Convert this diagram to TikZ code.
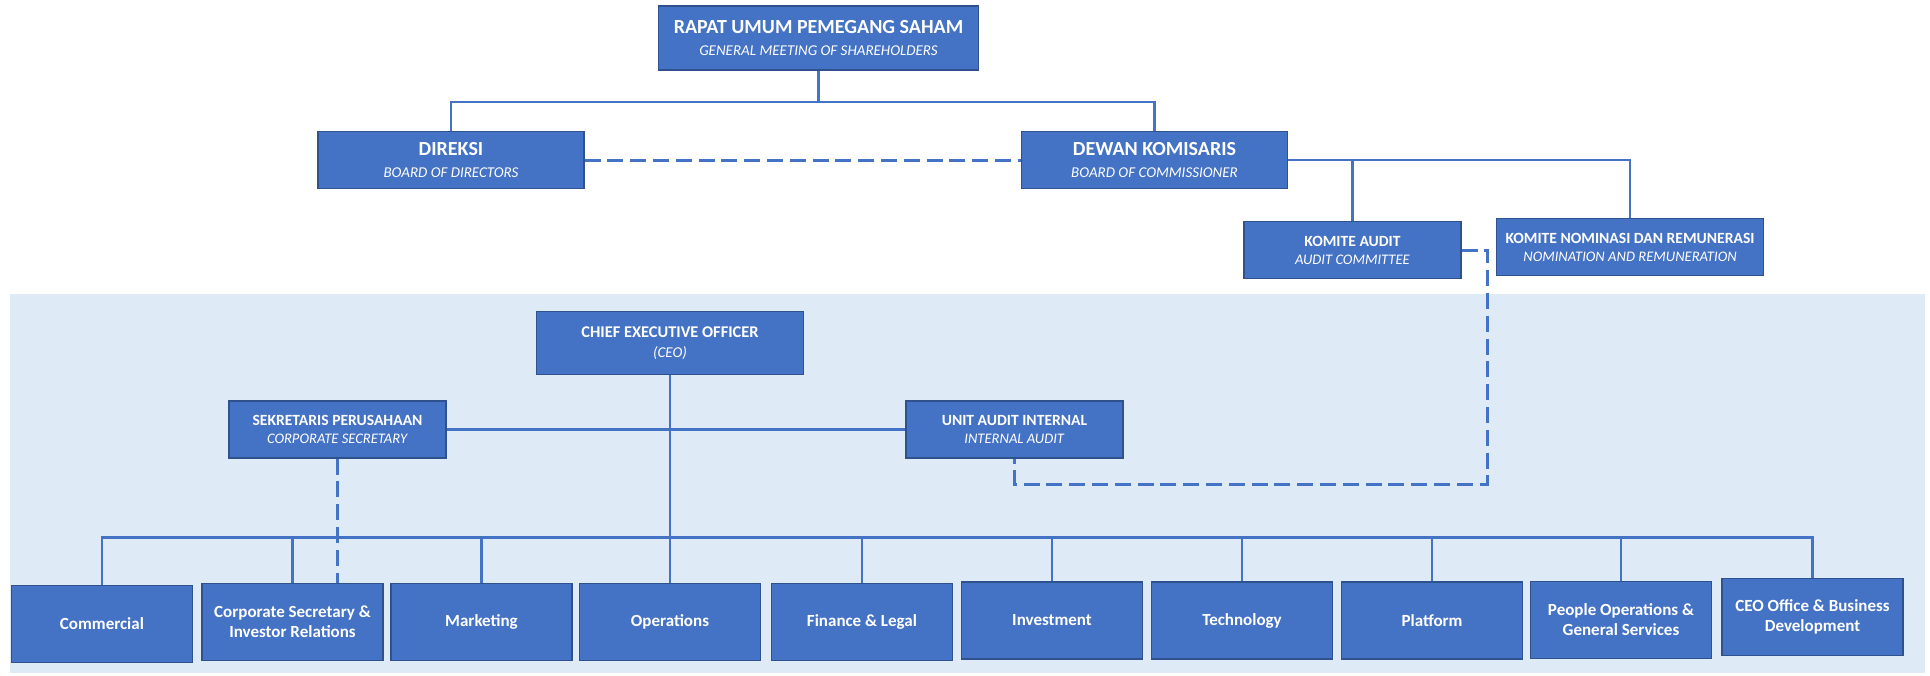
\documentclass[tikz,border=0pt]{standalone}
\usepackage{fontspec}
\setmainfont{Carlito}
\usepackage{tikz}
\usetikzlibrary{positioning,calc}
\usepackage{xcolor}
\definecolor{officeblue}{RGB}{68,114,196}
\definecolor{officeedge}{RGB}{47,82,143}
\definecolor{panelblue}{RGB}{222,235,247}

\begin{document}
\begin{tikzpicture}[x=0.5pt, y=-0.5pt,
    orgbox/.style={draw=officeedge, fill=officeblue, text=white, align=center, inner sep=2pt, line width=0.6pt},
    topbox/.style={orgbox, minimum width=133pt, minimum height=28.5pt, font=\fontsize{10}{11}\selectfont},
    midbox/.style={orgbox, minimum width=108.5pt, minimum height=28.5pt, font=\fontsize{7.8}{9}\selectfont},
    unitbox/.style={orgbox, minimum width=90.5pt, minimum height=38.5pt, font=\fontsize{8.5}{10}\selectfont\bfseries},
    link/.style={officeblue, line width=1.2pt},
    dlink/.style={officeblue, line width=1.5pt, dash pattern=on 8pt off 3.4pt}
]
\useasboundingbox (0,0) rectangle (1930,675);

% Management panel
\fill[panelblue] (10,294) rectangle (1925,673);

% Shareholders and boards
\node[topbox, minimum width=160pt, minimum height=32pt] (rups) at (818.5,38) {\textbf{RAPAT UMUM PEMEGANG SAHAM}\\{\fontsize{7.5}{9}\selectfont\textit{GENERAL MEETING OF SHAREHOLDERS}}};
\node[topbox] (direksi) at (451,160) {\textbf{DIREKSI}\\{\fontsize{7.5}{9}\selectfont\textit{BOARD OF DIRECTORS}}};
\node[topbox] (dewan) at (1154.5,160) {\textbf{DEWAN KOMISARIS}\\{\fontsize{7.5}{9}\selectfont\textit{BOARD OF COMMISSIONER}}};

% Committees
\node[midbox] (ka) at (1352.5,250) {\textbf{KOMITE AUDIT}\\{\fontsize{7.3}{9}\selectfont\textit{AUDIT COMMITTEE}}};
\node[midbox, minimum width=133.5pt] (knr) at (1630,247) {\textbf{KOMITE NOMINASI DAN REMUNERASI}\\{\fontsize{7.3}{9}\selectfont\textit{NOMINATION AND REMUNERATION}}};

% CEO and support units
\node[midbox, minimum width=133.5pt, minimum height=31.5pt, font=\fontsize{8.2}{10}\selectfont] (ceo) at (670,343) {\textbf{CHIEF EXECUTIVE OFFICER}\\{\fontsize{7.5}{9}\selectfont\textit{(CEO)}}};
\node[midbox] (sek) at (337.5,429.5) {\textbf{SEKRETARIS PERUSAHAAN}\\{\fontsize{7.3}{9}\selectfont\textit{CORPORATE SECRETARY}}};
\node[midbox] (ia) at (1014.5,429.5) {\textbf{UNIT AUDIT INTERNAL}\\{\fontsize{7.3}{9}\selectfont\textit{INTERNAL AUDIT}}};

% Divisions
\node[unitbox] (comm) at (102,624) {Commercial};
\node[unitbox] (corp) at (292.5,622) {Corporate Secretary \&\\Investor Relations};
\node[unitbox] (mkt) at (481.5,622) {Marketing};
\node[unitbox] (ops) at (670,622) {Operations};
\node[unitbox] (fin) at (862,622) {Finance \& Legal};
\node[unitbox] (inv) at (1052,620.5) {Investment};
\node[unitbox] (tech) at (1242,620.5) {Technology};
\node[unitbox] (plat) at (1432,620.5) {Platform};
\node[unitbox] (people) at (1621,620) {People Operations \&\\General Services};
\node[unitbox] (ceooff) at (1812.5,617) {CEO Office \& Business\\Development};

% Connectors, upper part
\coordinate (topbus) at (818.5,102);
\draw[link] (rups.south) -- (topbus);
\draw[link] (direksi.north) |- (topbus) -| (dewan.north);
\draw[link] (dewan.east) -| (knr.north);
\draw[link] (ka.north) -- (ka.north |- dewan.east);
\draw[dlink] (direksi.east) -- (dewan.west);

% Connectors, management
\coordinate (auditturn) at (1487,484);
\coordinate (unitbus) at (670,537.5);
\draw[link] (sek.east) -- (ia.west);
\draw[link] (ceo.south) -- (ops.north);
\draw[link] (comm.north) |- (unitbus) -| (ceooff.north);
\draw[link] (corp.north) -- (corp.north |- unitbus);
\draw[link] (mkt.north) -- (mkt.north |- unitbus);
\draw[link] (fin.north) -- (fin.north |- unitbus);
\draw[link] (inv.north) -- (inv.north |- unitbus);
\draw[link] (tech.north) -- (tech.north |- unitbus);
\draw[link] (plat.north) -- (plat.north |- unitbus);
\draw[link] (people.north) -- (people.north |- unitbus);
\draw[dlink] (sek.south) -- (sek.south |- corp.north);
\draw[dlink] (ka.east) -| (auditturn) -| (ia.south);

\end{tikzpicture}
\end{document}
